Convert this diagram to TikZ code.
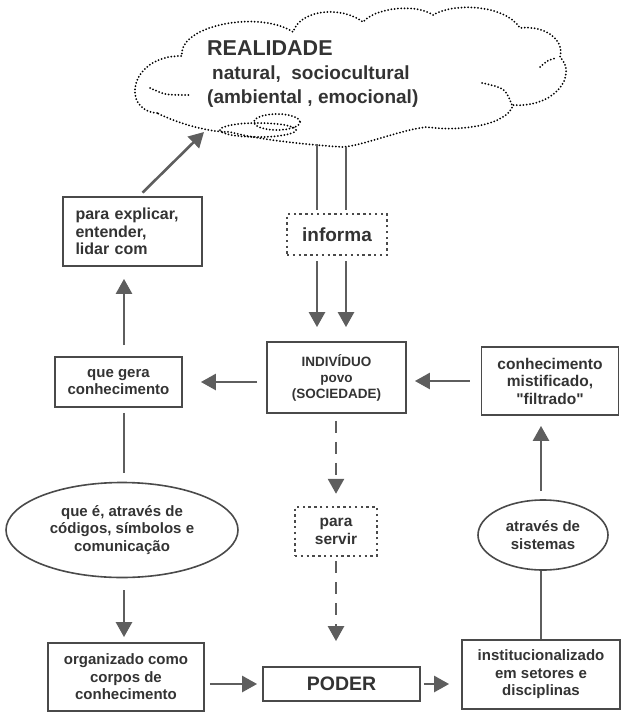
\documentclass[tikz,border=0pt]{standalone}
\usepackage{fontspec}
\setmainfont{Liberation Sans}
\usetikzlibrary{shapes.geometric,arrows.meta}
\definecolor{boxgray}{HTML}{4A4A4A}
\definecolor{arrgray}{HTML}{5E5E5E}
\definecolor{txtgray}{HTML}{333333}

\begin{document}
\begin{tikzpicture}[x=1pt,y=-1pt]
				\tikzstyle{every node}=[font=\fontsize{15}{17.5}\selectfont\bfseries,text=txtgray,inner sep=2pt,align=center]
				\tikzstyle{box}=[draw=boxgray,line width=1.8pt]
				\tikzstyle{dotbox}=[draw=boxgray,line width=2.4pt,dash pattern=on 2.4pt off 3.4pt]
				\tikzstyle{oval}=[ellipse,draw=boxgray,line width=1.6pt,inner sep=0pt]
				\tikzstyle{clouddots}=[draw=black,line width=2pt,line cap=round,dash pattern=on 0pt off 3.3pt]
				\tikzstyle{arr}=[draw=arrgray,line width=2.6pt,-{Triangle[length=15pt,width=16pt]}]
				\tikzstyle{dasharr}=[arr,dash pattern=on 12pt off 9pt]
				\tikzstyle{link}=[draw=arrgray,line width=2.6pt]
				\useasboundingbox (0,0) rectangle (628,720);
				% nuvem
				\draw[clouddots] (157,113) .. controls (120,110) and (130,55) .. (182,56)
					.. controls (178,25) and (260,10) .. (293,32)
					.. controls (300,10) and (340,5) .. (363,22)
					.. controls (375,8) and (415,3) .. (433,15)
					.. controls (455,2) and (505,5) .. (520,28)
					.. controls (545,25) and (565,40) .. (560,57)
					.. controls (578,75) and (555,108) .. (513,105)
					.. controls (508,125) and (460,132) .. (427,127)
					.. controls (400,130) and (365,145) .. (343,147)
					.. controls (310,145) and (260,140) .. (230,132)
					.. controls (205,132) and (175,122) .. (157,113);
				\draw[clouddots] (150,88) .. controls (165,95) .. (190,95);
				\draw[clouddots] (540,67) .. controls (548,60) .. (557,58);
				\draw[clouddots] (482,83) .. controls (505,88) .. (512,105);
				\draw[clouddots] (277,122) ellipse [x radius=23,y radius=8];
				\draw[clouddots] (258,130) ellipse [x radius=38,y radius=7];
				\node[anchor=west,align=left,font=\fontsize{19}{24}\selectfont\bfseries] (realidade) at (205,74) 
					{{\fontsize{21.5}{24}\selectfont REALIDADE}\\\hspace*{5pt}natural,\ \ sociocultural\\(ambiental , emocional)};
				% caixas
				\node[box,align=left,text width=114pt,minimum width=139pt,minimum height=69pt,font=\fontsize{16}{17.5}\selectfont\bfseries] (explicar) at (132.5,231.5) {para explicar,\\entender,\\lidar com};
				\node[dotbox,minimum width=100pt,minimum height=41pt,font=\fontsize{19}{20}\selectfont\bfseries] (informa) at (337,234.5) {informa};
				\node[box,minimum width=127pt,minimum height=50pt] (gera) at (118.5,382) {que gera\\conhecimento};
				\node[box,minimum width=139pt,minimum height=71pt,font=\fontsize{13.5}{16}\selectfont\bfseries] (individuo) at (336.5,377.5) {INDIVÍDUO\\povo\\(SOCIEDADE)};
				\node[box,minimum width=137pt,minimum height=68pt,font=\fontsize{15.5}{17.5}\selectfont\bfseries] (mistificado) at (550,381) {conhecimento\\mistificado,\\\textquotedbl filtrado\textquotedbl};
				\node[oval,minimum width=232pt,minimum height=95pt] (codigos) at (122,530) {que é, através de\\códigos, símbolos e\\comunicação};
				\node[dotbox,minimum width=82pt,minimum height=49pt,font=\fontsize{15.5}{17.5}\selectfont\bfseries] (servir) at (336,531.5) {para\\servir};
				\node[oval,minimum width=130pt,minimum height=70pt] (sistemas) at (543,535) {através de\\sistemas};
				\node[box,minimum width=156pt,minimum height=68pt] (organizado) at (126,677) {organizado como\\corpos de\\conhecimento};
				\node[box,minimum width=157pt,minimum height=34pt,font=\fontsize{19.5}{20}\selectfont\bfseries] (poder) at (341.5,684) {PODER};
				\node[box,minimum width=158pt,minimum height=69pt] (instit) at (541,674.5) {institucionalizado\\em setores e\\disciplinas};
				% pontos de apoio
				\coordinate (c1) at (317,144);
				\coordinate (c2) at (346,147);
				\coordinate (tipc) at (204,132);
				\coordinate (lcol) at (124,0);
				\coordinate (rcol) at (541,0);
				% ligacoes
				\draw[link,shorten >=3pt] (c1) -- (c1 |- informa.north);
				\draw[link,shorten >=3pt] (c2) -- (c2 |- informa.north);
				\draw[arr,shorten <=5pt,shorten >=14pt] (c1 |- informa.south) -- (c1 |- individuo.north);
				\draw[arr,shorten <=5pt,shorten >=14pt] (c2 |- informa.south) -- (c2 |- individuo.north);
				\draw[arr,shorten <=5pt] ([xshift=6.5pt]explicar.north) -- (tipc);
				\draw[arr,shorten <=11pt,shorten >=12pt] (lcol |- gera.north) -- (lcol |- explicar.south);
				\draw[link,shorten <=5pt,shorten >=9pt] (lcol |- gera.south) -- (lcol |- codigos.north);
				\draw[arr,shorten <=12pt,shorten >=5pt] (lcol |- codigos.south) -- (lcol |- organizado.north);
				\draw[arr,shorten <=5pt,shorten >=5pt] (organizado.east |- poder.west) -- (poder.west);
				\draw[arr,shorten <=3pt,shorten >=12pt] (poder.east) -- (instit.west |- poder.east);
				\draw[link] (rcol |- instit.north) -- (rcol |- sistemas.south);
				\draw[arr,shorten <=8pt,shorten >=10pt] (rcol |- sistemas.north) -- (rcol |- mistificado.south);
				\draw[arr,shorten <=11pt,shorten >=8pt] (mistificado.west) -- (individuo.east |- mistificado.west);
				\draw[arr,shorten <=9pt,shorten >=18pt] (individuo.west |- gera.east) -- (gera.east);
				\draw[dasharr,shorten <=7pt,shorten >=12pt] (individuo.south -| servir.north) -- (servir.north);
				\draw[dasharr,shorten <=4pt,shorten >=25pt] (servir.south) -- (servir.south |- poder.north);
\end{tikzpicture}
\end{document}
